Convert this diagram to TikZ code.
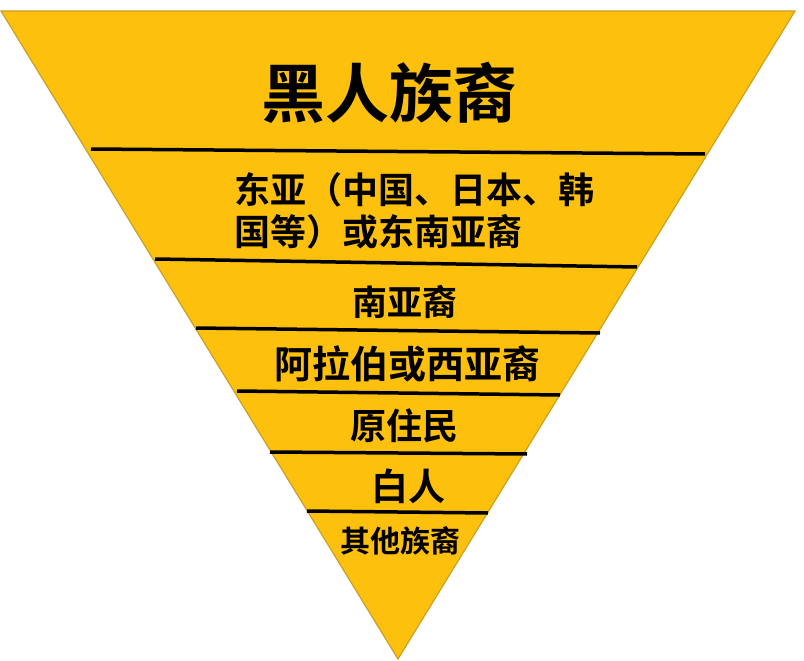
\documentclass[tikz,border=0pt]{standalone}
\usepackage{fontspec}
\newfontfamily\cjk{Noto Sans CJK SC}[BoldFont={Noto Sans CJK SC Bold}]
\definecolor{tri}{HTML}{FDC00C}
\definecolor{triedge}{HTML}{C9A125}
\begin{document}
\begin{tikzpicture}[x=1pt,y=-1pt,
  band/.style={line width=3.5pt,black},
  lbl/.style={font=\cjk\bfseries,inner sep=0pt,text=black}]
\useasboundingbox (0,0) rectangle (804,661);
\coordinate (TL) at (1,11);
\coordinate (TR) at (795,11);
\coordinate (AP) at (398,659);
\filldraw[fill=tri,draw=triedge,line width=1.2pt] (TL) -- (TR) -- (AP) -- cycle;
% band lines
\draw[band] (91,149) -- (705,154);
\draw[band] (155,259) -- (637,267);
\draw[band] (196,328) -- (600,333);
\draw[band] (237,391) -- (560,395);
\draw[band] (270,452) -- (527,454);
\draw[band] (307,511) -- (488,513);
% labels
\node[lbl,font=\cjk\bfseries\fontsize{64}{66}\selectfont] (n1) at (389,93) {黑人族裔};
\node[lbl,font=\cjk\bfseries\fontsize{36}{42}\selectfont,align=left,anchor=west] (n2) at (234,211) {东亚（中国、日本、韩\\国等）或东南亚裔};
\node[lbl,font=\cjk\bfseries\fontsize{35}{40}\selectfont] (n3) at (405,302) {南亚裔};
\node[lbl,font=\cjk\bfseries\fontsize{38}{40}\selectfont] (n4) at (407,364) {阿拉伯或西亚裔};
\node[lbl,font=\cjk\bfseries\fontsize{36}{40}\selectfont] (n5) at (404,426) {原住民};
\node[lbl,font=\cjk\bfseries\fontsize{37}{40}\selectfont] (n6) at (408,486) {白人};
\node[lbl,font=\cjk\bfseries\fontsize{30}{34}\selectfont] (n7) at (400,541) {其他族裔};
\end{tikzpicture}
\end{document}
